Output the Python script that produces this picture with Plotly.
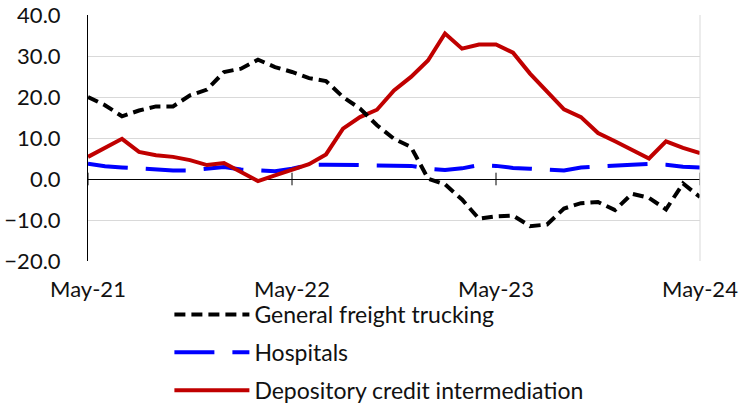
import pandas as pd
import plotly.graph_objects as go

months = list(pd.date_range("2021-05-01", periods=37, freq="MS").strftime("%b-%y"))
tick_labels = ["May-21", "May-22", "May-23", "May-24"]
y_ticks = [-20, -10, 0, 10, 20, 30, 40]

trucking = [20.0, 18.0, 15.3, 16.7, 17.7, 17.7, 20.4, 21.8, 26.1, 26.9, 29.1, 27.3,
            26.1, 24.6, 23.9, 20.0, 17.2, 13.1, 9.8, 7.8, 0.1, -1.3, -5.0, -9.7,
            -9.1, -8.9, -11.5, -11.1, -7.2, -5.9, -5.6, -7.6, -3.6, -4.6, -7.4, -1.1, -4.4]
hospitals = [3.7, 3.1, 2.8, 2.5, 2.3, 2.1, 2.1, 2.6, 2.9, 2.3, 2.0, 1.9,
             2.5, 3.4, 3.5, 3.4, 3.4, 3.4, 3.3, 3.2, 2.5, 2.2, 2.6, 3.4,
             3.2, 2.7, 2.5, 2.3, 2.1, 2.8, 3.1, 3.4, 3.5, 3.7, 3.5, 3.0, 2.8]
depository = [5.4, 7.7, 9.8, 6.6, 5.8, 5.4, 4.6, 3.4, 3.9, 1.7, -0.5, 0.9,
              2.3, 3.6, 6.0, 12.3, 15.1, 16.9, 21.6, 24.9, 28.9, 35.5, 31.8, 32.8,
              32.8, 30.8, 25.7, 21.2, 17.0, 15.1, 11.2, 9.2, 7.2, 5.0, 9.2, 7.6, 6.3]

FONT = "Lato, 'Open Sans', sans-serif"
fig = go.Figure()

fig.add_trace(go.Scatter(x=months, y=hospitals, mode="lines", name="Hospitals",
                         line=dict(color="#0000FF", width=4, dash="40px,18px"),
                         legendrank=2, legendgroup="b"))
fig.add_trace(go.Scatter(x=months, y=depository, mode="lines", name="Depository credit intermediation",
                         line=dict(color="#C00000", width=4),
                         legendrank=3, legendgroup="c"))
fig.add_trace(go.Scatter(x=months, y=trucking, mode="lines", name="General freight trucking",
                         line=dict(color="#000000", width=4, dash="11px,6px"),
                         legendrank=1, legendgroup="a"))
# axis tick marks on the zero line
fig.add_trace(go.Scatter(x=tick_labels, y=[0] * len(tick_labels), mode="markers",
                         marker=dict(symbol="line-ns", size=9,
                                     line=dict(color="#000000", width=1)),
                         showlegend=False, hoverinfo="skip"))

fig.update_layout(
    width=754, height=406,
    margin=dict(l=88, r=54, t=15, b=145, autoexpand=False),
    paper_bgcolor="white", plot_bgcolor="white",
    font=dict(family=FONT, size=22, color="#111111"),
    legend=dict(x=0.133, y=-0.13, xanchor="left", yanchor="top",
                orientation="v", traceorder="grouped", tracegroupgap=5,
                itemwidth=75, font=dict(size=23), bgcolor="rgba(0,0,0,0)"),
    showlegend=True,
)
fig.update_xaxes(type="category", categoryorder="array", categoryarray=months,
                 range=[0, 36], tickvals=tick_labels, ticktext=tick_labels,
                 showgrid=False, zeroline=False, ticks="", showline=False,
                 ticklabelstandoff=13, ticklabeloverflow="allow", tickfont=dict(size=22))
fig.update_yaxes(range=[-20, 40], tickvals=y_ticks, tickformat=".1f",
                 showgrid=True, gridcolor="#D9D9D9", gridwidth=1,
                 zeroline=True, zerolinecolor="#000000", zerolinewidth=1,
                 showline=True, linecolor="#000000", linewidth=1,
                 ticks="", ticklabelstandoff=22, ticklabeloverflow="allow",
                 tickfont=dict(size=22))
fig.add_shape(type="line", xref="paper", yref="paper", x0=1, x1=1, y0=0, y1=1,
              line=dict(color="#D9D9D9", width=1))

fig.write_html("out.html", config={"displayModeBar": False},
               post_script="document.body.style.margin='0';document.body.style.overflow='hidden';")
